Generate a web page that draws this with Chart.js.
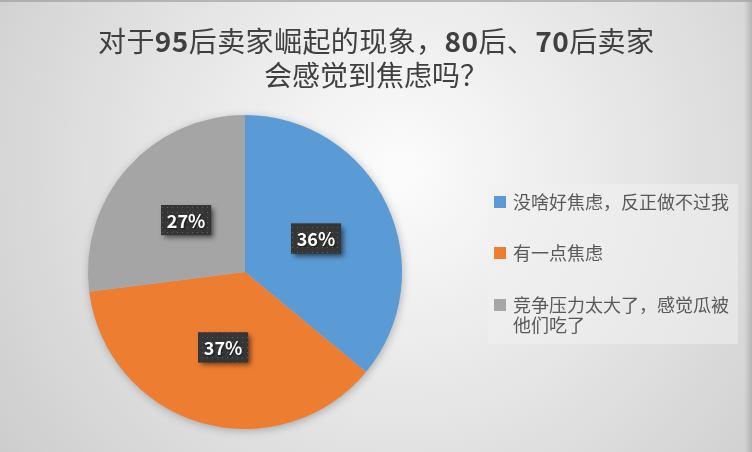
<!DOCTYPE html>
<html>
<head>
<meta charset="utf-8">
<script src="https://cdn.jsdelivr.net/npm/chart.js@4/dist/chart.umd.min.js"></script>
<style>
html,body{margin:0;padding:0;background:#e6e6e6;}
#wrap{width:752px;height:452px;}
</style>
</head>
<body>
<div id="wrap"><canvas id="c" width="752" height="452"></canvas></div>
<script>
const titleLines = ['对于95后卖家崛起的现象，80后、70后卖家', '会感觉到焦虑吗？'];
const categories = ['没啥好焦虑，反正做不过我', '有一点焦虑', '竞争压力太大了，感觉瓜被他们吃了'];
const values = [36, 37, 27];
const percentLabels = ['36%', '37%', '27%'];
const colors = ['#5B9BD5', '#ED7D31', '#A5A5A5'];

const FONT = '"Noto Sans CJK SC", "Noto Sans", sans-serif';

const bgPlugin = {
  id: 'bg',
  beforeDraw(chart) {
    const ctx = chart.ctx, w = chart.width, h = chart.height;
    ctx.save();
    const g = ctx.createRadialGradient(400, 170, 10, 400, 170, 560);
    g.addColorStop(0, '#fbfbfb');
    g.addColorStop(0.45, '#e4e4e4');
    g.addColorStop(1, '#c6c6c6');
    ctx.fillStyle = g;
    ctx.fillRect(0, 0, w, h);
    ctx.fillStyle = 'rgba(150,150,150,0.6)';
    ctx.fillRect(0, 0, w, 2);
    const gr = ctx.createLinearGradient(w - 8, 0, w, 0);
    gr.addColorStop(0, 'rgba(160,160,160,0)');
    gr.addColorStop(1, 'rgba(160,160,160,0.6)');
    ctx.fillStyle = gr;
    ctx.fillRect(w - 8, 0, 8, h);
    ctx.restore();
  },
  beforeDatasetsDraw(chart) {
    const meta = chart.getDatasetMeta(0);
    if (!meta.data.length) return;
    const a = meta.data[0];
    const ctx = chart.ctx;
    ctx.save();
    ctx.shadowColor = 'rgba(0,0,0,0.3)';
    ctx.shadowBlur = 10;
    ctx.shadowOffsetX = 1;
    ctx.shadowOffsetY = 2;
    ctx.fillStyle = '#bbbbbb';
    ctx.beginPath();
    ctx.arc(a.x, a.y, a.outerRadius - 1, 0, Math.PI * 2);
    ctx.fill();
    ctx.restore();
  }
};

function splitRuns(t) {
  const runs = [];
  for (const ch of t) {
    const d = /[0-9]/.test(ch);
    if (runs.length && runs[runs.length - 1].d === d) runs[runs.length - 1].s += ch;
    else runs.push({ s: ch, d });
  }
  return runs;
}

const titlePlugin = {
  id: 'fullTitle',
  afterDraw(chart) {
    const ctx = chart.ctx;
    ctx.save();
    ctx.fillStyle = '#404040';
    ctx.textAlign = 'left';
    ctx.textBaseline = 'middle';
    const ys = [41, 75];
    const targets = [556, 221];
    titleLines.forEach((t, i) => {
      const runs = splitRuns(t);
      let w = 0;
      const n = [...t].length;
      runs.forEach(r => {
        ctx.font = (r.d ? 'bold ' : '') + '28px ' + FONT;
        ctx.letterSpacing = '0px';
        r.w = ctx.measureText(r.s).width;
        w += r.w;
      });
      const sp = Math.max(0, (targets[i] - w) / (n - 1));
      let x = 376 - (w + sp * (n - 1)) / 2;
      runs.forEach(r => {
        ctx.font = (r.d ? 'bold ' : '') + '28px ' + FONT;
        ctx.letterSpacing = sp.toFixed(2) + 'px';
        ctx.fillText(r.s, x, ys[i]);
        x += r.w + sp * [...r.s].length;
      });
    });
    ctx.restore();
  }
};

function makePattern(ctx) {
  const pc = document.createElement('canvas');
  pc.width = 5; pc.height = 5;
  const p = pc.getContext('2d');
  p.fillStyle = '#363636';
  p.fillRect(0, 0, 5, 5);
  p.fillStyle = '#5e5e5e';
  p.fillRect(2, 2, 1, 1);
  return ctx.createPattern(pc, 'repeat');
}

const labelPlugin = {
  id: 'pctLabels',
  afterDatasetsDraw(chart) {
    const ctx = chart.ctx;
    const meta = chart.getDatasetMeta(0);
    const pat = makePattern(ctx);
    meta.data.forEach((arc, i) => {
      const pos = arc.tooltipPosition();
      const bw = 50, bh = 30;
      const x = pos.x - bw / 2, y = pos.y - bh / 2;
      ctx.save();
      ctx.shadowColor = 'rgba(0,0,0,0.55)';
      ctx.shadowBlur = 5;
      ctx.shadowOffsetX = 3;
      ctx.shadowOffsetY = 3;
      ctx.fillStyle = '#363636';
      ctx.fillRect(x, y, bw, bh);
      ctx.restore();
      ctx.save();
      ctx.fillStyle = pat;
      ctx.fillRect(x, y, bw, bh);
      ctx.shadowColor = 'rgba(0,0,0,0.6)';
      ctx.shadowBlur = 2;
      ctx.shadowOffsetX = 1;
      ctx.shadowOffsetY = 1;
      ctx.fillStyle = '#ffffff';
      ctx.font = 'bold 18px ' + FONT;
      ctx.textAlign = 'center';
      ctx.textBaseline = 'middle';
      ctx.fillText(percentLabels[i], pos.x, pos.y + 1);
      ctx.restore();
    });
  }
};

function wrapText(ctx, text, maxW) {
  const lines = [];
  let cur = '';
  for (const ch of text) {
    if (ctx.measureText(cur + ch).width > maxW && cur) {
      lines.push(cur);
      cur = ch;
    } else cur += ch;
  }
  if (cur) lines.push(cur);
  return lines;
}

const legendPlugin = {
  id: 'customLegend',
  afterDraw(chart) {
    const ctx = chart.ctx;
    ctx.save();
    ctx.fillStyle = 'rgba(240,240,240,0.55)';
    ctx.fillRect(488, 184, 250, 160);
    ctx.font = '18px ' + FONT;
    ctx.textBaseline = 'middle';
    ctx.textAlign = 'left';
    const ys = [202, 253, 305];
    categories.forEach((c, i) => {
      ctx.fillStyle = colors[i];
      ctx.fillRect(494, ys[i] - 6, 12, 12);
      ctx.fillStyle = '#595959';
      const lines = wrapText(ctx, c, 224);
      lines.forEach((ln, j) => ctx.fillText(ln, 513, ys[i] + j * 20));
    });
    ctx.restore();
  }
};

new Chart(document.getElementById('c'), {
  type: 'pie',
  data: {
    labels: categories,
    datasets: [{
      data: values,
      backgroundColor: colors,
      borderWidth: 0
    }]
  },
  options: {
    responsive: false,
    animation: false,
    events: [],
    layout: { padding: { left: 88, right: 350, top: 115, bottom: 23 } },
    plugins: {
      legend: { display: false },
      tooltip: { enabled: false },
      title: { display: false }
    }
  },
  plugins: [bgPlugin, labelPlugin, legendPlugin, titlePlugin]
});
</script>
</body>
</html>
